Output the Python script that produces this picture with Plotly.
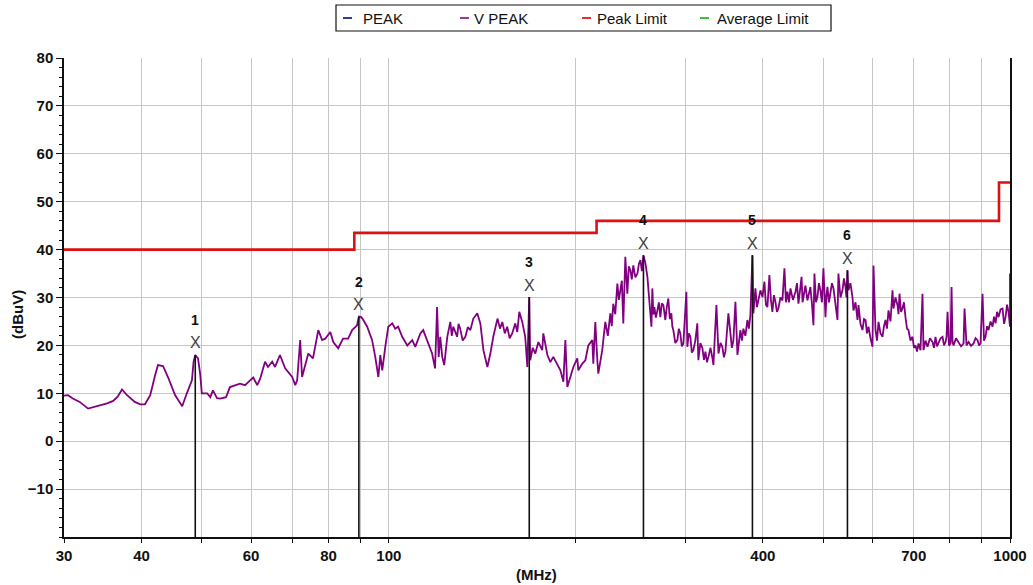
import math
import plotly.graph_objects as go

# ---------------- data ----------------
vpeak_freq = [
    30.0, 30.45, 31.0, 31.8, 32.8, 33.9, 35.2, 36.0, 36.6, 37.2, 37.9, 39.0, 39.8, 40.5, 41.3, 42.0,
    42.5, 43.3, 44.1, 45.3, 46.5, 47.3, 48.2, 48.5, 48.8, 49.3, 49.7, 50.0, 51.0, 51.6, 52.1, 52.9,
    53.5, 54.7, 55.5, 57.6, 58.7, 59.8,
    60.5, 61.4, 62.1, 63.2, 63.9, 64.9, 65.6, 66.8, 68.1, 69.9, 70.7, 71.2, 72.0, 72.5, 73.3, 74.2,
    75.5, 76.7, 77.0, 78.1, 79.0, 80.5, 81.4, 82.9, 84.4, 86.0, 87.3, 88.9, 89.5, 90.3, 90.9, 92.3,
    94.0, 95.1, 96.2, 96.9, 97.6, 98.7, 99.8, 101.3, 102.4, 103.5, 105.1, 107.1, 109.1, 110.3, 112.4,
    113.6, 115.3, 117.4, 118.7, 119.6, 120.3,
    121.0, 121.9, 122.8, 124.2, 125.6, 126.3, 127.0, 128.8, 129.5, 130.3, 131.5, 132.8, 134.0, 135.3,
    136.8, 138.8, 140.4, 142.0, 144.1, 145.7, 147.3, 149.6, 151.0, 152.3, 153.7, 155.1, 156.5, 158.0,
    159.8, 161.0, 162.2, 164.0, 165.8, 167.1, 168.3, 168.9, 170.5, 172.1, 174.1, 176.6, 177.3, 180.0,
    182.0, 184.0, 186.8, 188.9, 191.0, 192.4, 193.8, 196.0, 198.2, 201.1, 201.9, 204.9, 207.2, 209.5,
    212.6, 213.4, 215.0, 216.6, 217.4, 220.6,
    223.1, 225.2, 227.3, 228.5, 229.8, 231.5, 233.3, 234.6, 235.9, 237.2, 238.5, 239.4, 240.3, 242.1,
    243.4, 244.8, 246.1, 247.5, 249.4, 251.3, 252.7, 254.1, 255.5, 257.0, 258.9, 260.8, 261.8, 264.7,
    265.6, 266.6, 267.6, 269.1, 270.6, 272.1, 273.6, 275.1, 276.7, 277.7, 278.7, 280.2, 281.8, 283.4,
    285.0, 286.0, 287.1, 289.2, 291.4, 293.0, 294.6, 296.3, 298.0, 301.3, 302.4, 304.1, 305.8, 307.5,
    309.2, 311.5, 313.8, 315.0, 317.4, 319.8, 321.6, 323.4, 325.2, 327.0, 329.5, 331.9, 333.1, 336.8,
    339.4, 341.9, 344.3, 346.3, 348.2, 352.1, 354.7, 356.7, 358.7, 361.4, 364.1, 366.1, 368.1, 370.2,
    372.2, 375.0, 377.8, 379.9, 382.0, 384.9, 386.3, 389.2, 391.4, 393.5, 396.5, 399.5, 402.4, 404.6,
    406.9, 409.9, 412.2, 414.5, 416.8, 419.2, 421.5, 423.8, 427.0, 430.2, 433.4, 435.8, 438.2, 440.7,
    443.2, 447.3, 451.5, 454.0, 456.5, 461.8, 463.5, 465.1, 468.5, 472.0, 474.6, 477.2, 480.0, 482.6,
    484.4, 487.1, 489.8, 492.5, 495.2, 498.0, 500.8, 502.7, 504.6, 506.5, 508.3, 511.1, 514.0, 516.9,
    519.8, 523.6, 527.5, 529.4, 533.4, 537.4, 540.4, 543.4, 545.4, 547.4, 549.4, 553.5, 557.7, 559.8,
    564.0, 568.2, 570.3, 574.5, 578.8, 582.0, 585.3, 588.5, 591.8, 596.2, 600.7, 602.9, 607.4, 610.8,
    614.2, 618.8, 623.4, 626.8, 630.3, 633.8, 637.4, 642.1, 646.9, 649.3, 654.1, 659.0, 661.4, 663.9,
    667.6, 671.3, 675.0, 678.8, 682.6, 686.4, 691.5, 696.7, 700.6, 704.5, 708.4, 712.4, 717.7, 723.0,
    725.7, 731.1, 736.5, 743.4, 750.3, 754.5, 758.7, 763.0, 767.2, 773.0, 778.7, 783.0, 787.4, 790.4,
    793.3, 797.7, 802.2, 805.2, 808.1, 811.1, 818.7, 826.3, 834.0, 841.8, 844.9, 851.2, 857.5, 865.5,
    873.6, 880.1, 886.6, 891.5, 896.5, 903.2, 908.2, 913.3, 918.4, 923.5, 930.4, 937.3, 942.5, 947.8,
    953.1, 958.4, 965.6, 972.8, 978.2, 983.6, 989.1, 994.6, 1000.0, 1000.0,
]
vpeak_level = [
    9.5, 9.6, 8.9, 8.2, 6.8, 7.3, 7.9, 8.4, 9.3, 10.8, 9.6, 8.2, 7.7, 7.7, 9.6, 13.5,
    15.9, 15.7, 13.4, 9.6, 7.3, 10.0, 12.7, 16.6, 18.0, 17.3, 14.0, 10.0, 10.0, 9.2, 10.6, 9.0,
    8.9, 9.2, 11.3, 12.0, 11.7, 12.7,
    13.3, 11.7, 13.1, 16.6, 15.5, 16.6, 15.5, 18.0, 15.2, 13.4, 11.7, 12.7, 21.1, 13.4, 15.9, 18.3,
    17.3, 21.8, 23.2, 21.1, 21.4, 22.8, 20.7, 19.4, 21.4, 21.4, 23.2, 24.2, 26.0, 25.9, 25.4, 23.9,
    21.1, 17.6, 13.4, 18.0, 14.8, 19.7, 23.9, 24.6, 23.5, 23.9, 21.8, 20.0, 21.1, 19.7, 22.5,
    23.2, 21.1, 18.3, 15.2, 28.0, 17.6,
    21.8, 17.6, 15.9, 21.8, 24.9, 22.0, 23.9, 21.8, 24.5, 23.5, 21.0, 21.8, 23.8, 23.2,
    25.6, 26.7, 24.6, 19.0, 15.5, 18.3, 21.8, 25.6, 23.5, 24.9, 22.5, 23.9, 21.5, 22.5,
    24.6, 22.8, 27.0, 24.9, 21.8, 15.5, 30.1, 16.9, 19.5, 18.3, 20.7, 19.0, 22.5, 18.0,
    16.5, 17.6, 15.9, 14.8, 12.4, 21.1, 11.3, 13.4, 15.5, 17.3, 14.8, 16.2, 16.9, 20.0,
    21.1, 16.2, 24.9, 16.9, 14.1, 19.0,
    24.9, 22.0, 26.7, 24.0, 28.7, 26.5, 32.9, 29.5, 31.5, 33.5, 24.6, 31.0, 38.5, 30.8,
    36.5, 35.7, 33.8, 36.7, 34.2, 35.0, 37.0, 37.8, 35.5, 38.8, 37.1, 34.3, 31.9, 23.9,
    31.9, 26.5, 28.0, 25.8, 27.3, 29.0, 25.9, 28.8, 28.4, 26.0, 25.3, 28.0, 29.8, 25.5,
    26.7, 24.0, 23.2, 20.5, 21.1, 23.5, 22.5, 19.8, 20.4, 31.2, 19.7, 22.5, 21.8, 18.5,
    19.0, 21.0, 24.6, 16.9, 20.5, 19.4, 17.0, 18.7, 16.5, 17.6, 19.5, 17.3, 15.9, 28.4,
    18.3, 20.5, 19.7, 17.5, 18.7, 26.7, 21.8, 19.5, 21.1, 29.1, 18.0, 21.5, 23.2, 21.0,
    23.5, 22.0, 25.3, 23.5, 26.3, 38.8, 26.7, 31.9, 28.0, 29.4, 31.5, 30.1, 33.3, 28.5,
    28.0, 34.7, 29.5, 27.0, 30.5, 29.1, 27.0, 27.7, 30.0, 29.4, 36.1, 29.0, 31.2, 29.0,
    31.9, 29.5, 31.2, 33.0, 28.7, 34.3, 29.0, 30.1, 32.5, 29.4, 31.0, 32.2, 28.5, 24.2,
    35.0, 29.0, 30.1, 33.0, 31.5, 29.0, 36.1, 30.0, 25.9, 30.5, 32.2, 29.0, 30.8, 33.0,
    31.9, 29.0, 25.3, 35.0, 30.0, 31.5, 34.0, 32.2, 30.0, 35.7, 31.5, 33.0, 30.1, 27.3,
    29.0, 25.3, 28.4, 24.5, 23.2, 25.5, 25.3, 22.5, 23.9, 21.5, 19.7, 36.7, 23.2, 21.0,
    24.9, 22.5, 21.8, 24.0, 25.3, 23.5, 27.3, 25.0, 31.5, 27.7, 30.0, 28.4, 26.5, 30.8,
    27.0, 27.7, 29.0, 25.9, 23.5, 23.2, 21.0, 21.8, 19.5, 20.0, 18.7, 20.4, 19.0, 30.8,
    19.0, 21.0, 19.7, 21.5, 20.7, 19.5, 21.8, 19.8, 20.4, 21.5, 21.8, 20.0, 20.7, 21.8,
    27.0, 20.0, 20.4, 32.2, 20.8, 20.0, 21.5, 20.7, 19.8, 20.4, 27.7, 20.0, 20.7, 19.9,
    20.4, 21.5, 21.1, 20.0, 20.4, 30.8, 21.0, 21.8, 24.0, 23.2, 25.0, 23.9, 26.0, 24.6,
    27.0, 25.9, 27.5, 27.7, 24.5, 25.9, 28.5, 27.0, 23.9, 35.0,
]

limit_freq = [30, 88, 216, 960, 1000]
limit_level = [40, 43.5, 46, 54, 54]

marker_ids = ["1", "2", "3", "4", "5", "6"]
marker_freq = [48.8, 89.5, 168.3, 257.0, 384.9, 547.4]
marker_level = [18.0, 26.0, 30.1, 38.8, 38.8, 35.7]

x_tick_vals = [30, 40, 60, 80, 100, 400, 700, 1000]
x_tick_text = ["30", "40", "60", "80", "100", "400", "700", "1000"]
x_minor_vals = [50, 70, 90, 200, 300, 500, 600, 800, 900]
y_tick_vals = [-10, 0, 10, 20, 30, 40, 50, 60, 70, 80]

legend_names = ["PEAK", "V PEAK", "Peak Limit", "Average Limit"]
legend_colors = ["#2a3f9a", "#9a3a94", "#e03030", "#3cc03c"]

# ---------------- geometry ----------------
W, H = 1033, 585
L, R, T, B = 64, 23, 58, 48
PW, PH = W - L - R, H - T - B
Y_MIN, Y_MAX = -20, 80

def px(x):
    return (x - L) / PW

def py(y):
    return (H - B - y) / PH

FONT = "Liberation Sans, Arial, sans-serif"
GRID = "#c6c6c6"

fig = go.Figure()

fig.add_trace(go.Scatter(
    x=limit_freq, y=limit_level, mode="lines", line_shape="hv",
    line=dict(color="#dd1111", width=2.6), name="Peak Limit", hoverinfo="skip"))

fig.add_trace(go.Scatter(
    x=vpeak_freq, y=vpeak_level, mode="lines",
    line=dict(color="#800080", width=1.8), name="V PEAK"))

# marker vertical lines
mx, my = [], []
for f, v in zip(marker_freq, marker_level):
    mx += [f, f, None]
    my += [Y_MIN, v, None]
fig.add_trace(go.Scatter(x=mx, y=my, mode="lines",
                         line=dict(color="#111111", width=1.6), hoverinfo="skip"))

annotations = []
for mid, f, v in zip(marker_ids, marker_freq, marker_level):
    annotations.append(dict(x=math.log10(f), y=v, xref="x", yref="y", text="X",
                            showarrow=False, yshift=12, xanchor="center", yanchor="middle",
                            font=dict(family=FONT, size=16, color="#404040")))
    annotations.append(dict(x=math.log10(f), y=v, xref="x", yref="y", text=mid,
                            showarrow=False, yshift=35, xanchor="center", yanchor="middle",
                            font=dict(family=FONT, size=14, color="#111111", weight="bold")))

# axis titles
annotations.append(dict(x=px(18), y=py(315), xref="paper", yref="paper", text="(dBuV)",
                        textangle=-90, showarrow=False, xanchor="center", yanchor="middle",
                        font=dict(family=FONT, size=15, color="#111111", weight="bold")))
annotations.append(dict(x=px(536), y=py(574), xref="paper", yref="paper", text="(MHz)",
                        showarrow=False, xanchor="center", yanchor="middle",
                        font=dict(family=FONT, size=15, color="#111111", weight="bold")))

# manual legend
shapes = [dict(type="rect", xref="paper", yref="paper",
               x0=px(336), x1=px(831), y0=py(31), y1=py(5),
               line=dict(color="#111111", width=1.2), fillcolor="white", layer="above")]
dash_x = [343, 460, 582, 700]
text_x = [361, 472, 595, 715]
for name, col, dx, tx in zip(legend_names, legend_colors, dash_x, text_x):
    shapes.append(dict(type="line", xref="paper", yref="paper",
                       x0=px(dx), x1=px(dx + 9), y0=py(18), y1=py(18),
                       line=dict(color=col, width=2)))
    annotations.append(dict(x=px(tx), y=py(18), xref="paper", yref="paper", text=name,
                            xanchor="left", yanchor="middle", showarrow=False,
                            font=dict(family=FONT, size=15, color="#111111")))

fig.update_layout(
    width=W, height=H,
    margin=dict(l=L, r=R, t=T, b=B, autoexpand=False),
    paper_bgcolor="white", plot_bgcolor="white",
    showlegend=False,
    font=dict(family=FONT, color="#111111"),
    annotations=annotations, shapes=shapes,
    xaxis=dict(
        type="log", range=[math.log10(30), math.log10(1000)],
        tickmode="array", tickvals=x_tick_vals, ticktext=x_tick_text,
        showgrid=True, gridcolor=GRID, gridwidth=1,
        showline=True, linecolor="#111111", linewidth=1.5,
        ticks="outside", ticklen=4, tickcolor="#111111",
        tickfont=dict(family=FONT, size=15, color="#111111", weight="bold"),
        minor=dict(tickmode="array", tickvals=x_minor_vals, showgrid=True,
                   gridcolor=GRID, gridwidth=1, ticks="outside", ticklen=4,
                   tickcolor="#111111"),
        zeroline=False, automargin=False,
    ),
    yaxis=dict(
        range=[Y_MIN, Y_MAX],
        tickmode="array", tickvals=y_tick_vals,
        showgrid=True, gridcolor=GRID, gridwidth=1,
        showline=True, linecolor="#111111", linewidth=1.5, mirror=True,
        ticks="outside", ticklen=6, tickcolor="#111111",
        tickfont=dict(family=FONT, size=15, color="#111111", weight="bold"),
        minor=dict(dtick=2, ticks="outside", ticklen=3, tickcolor="#111111", showgrid=False),
        zeroline=False, automargin=False,
    ),
)

fig.write_html("out.html")
